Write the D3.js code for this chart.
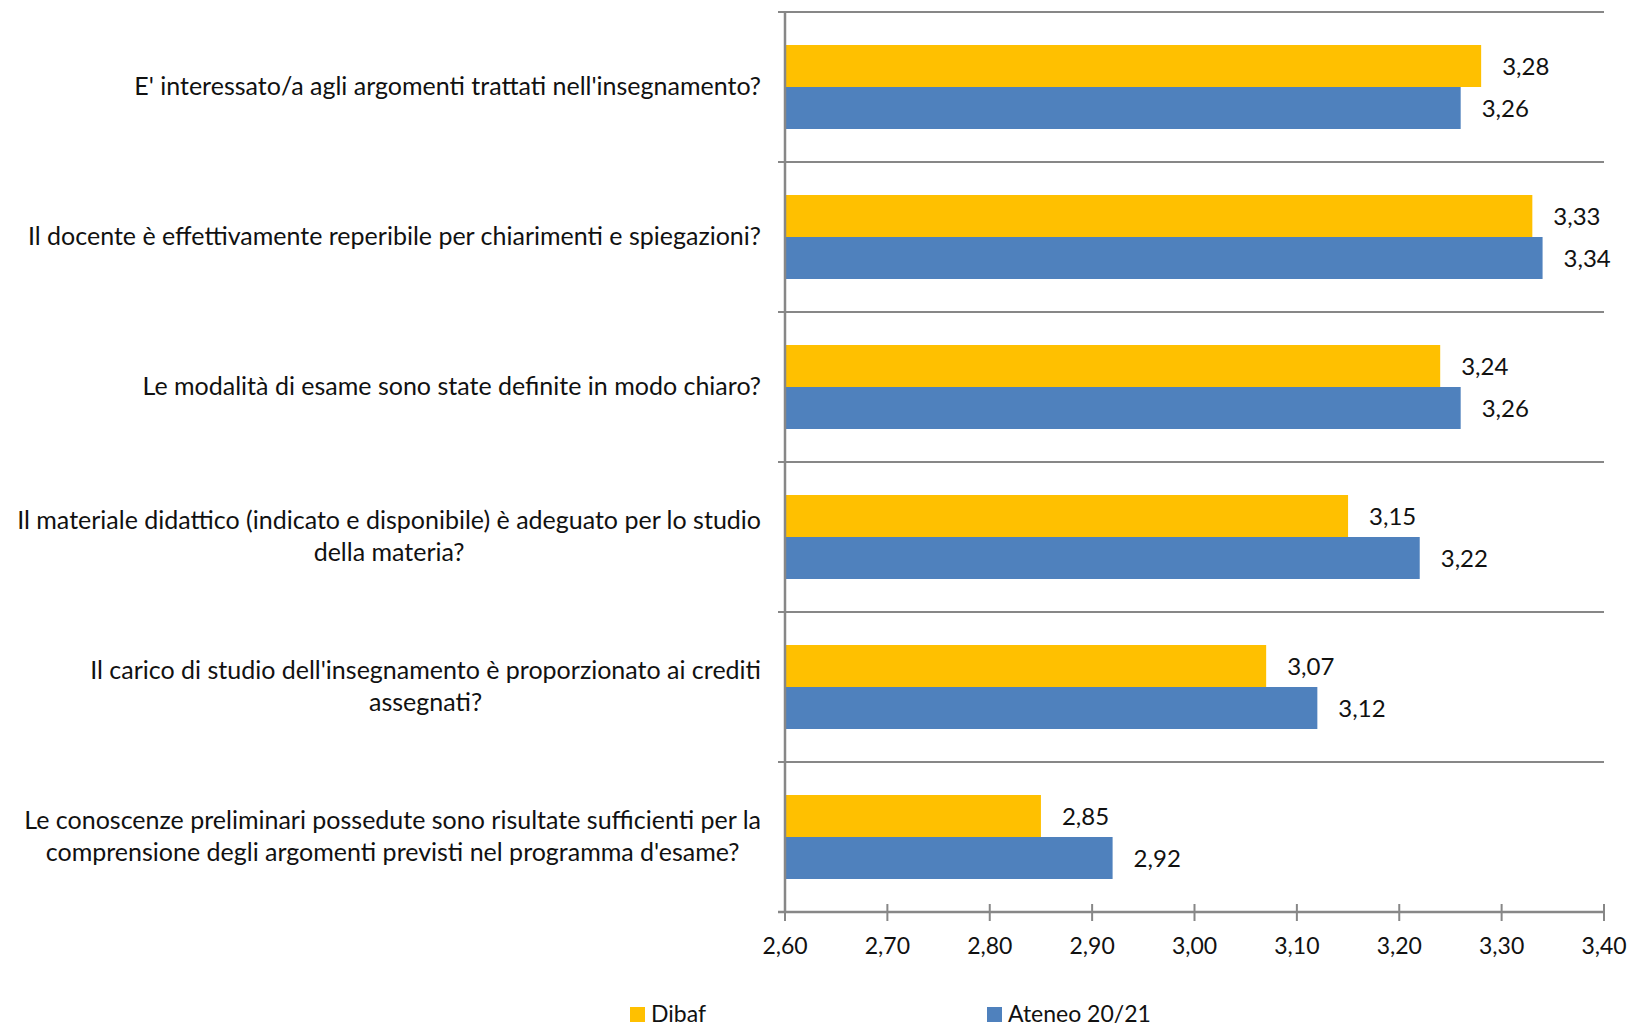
<!DOCTYPE html>
<html>
<head>
<meta charset="utf-8">
<script src="https://cdn.jsdelivr.net/npm/d3@7"></script>
<style>
  html, body { margin: 0; padding: 0; background: #fff; }
  svg { display: block; font-family: Lato, "Open Sans", sans-serif; }
</style>
</head>
<body>
<script>
// Questions, one entry per row; inner arrays are the wrapped label lines.
const categories = [
  ["E' interessato/a agli argomenti trattati nell'insegnamento?"],
  ["Il docente è effettivamente reperibile per chiarimenti e spiegazioni?"],
  ["Le modalità di esame sono state definite in modo chiaro?"],
  ["Il materiale didattico (indicato e disponibile) è adeguato per lo studio", "della materia?"],
  ["Il carico di studio dell'insegnamento è proporzionato ai crediti", "assegnati?"],
  ["Le conoscenze preliminari possedute sono risultate sufficienti per la", "comprensione degli argomenti previsti nel programma d'esame?"]
];
const seriesNames = ["Dibaf", "Ateneo 20/21"];
const dibaf  = [3.28, 3.33, 3.24, 3.15, 3.07, 2.85];
const ateneo = [3.26, 3.34, 3.26, 3.22, 3.12, 2.92];
const xTicks = [2.6, 2.7, 2.8, 2.9, 3.0, 3.1, 3.2, 3.3, 3.4];
const colors = ["#FFC000", "#4F81BD"];

const W = 1632, H = 1029;
const plot = { left: 785, right: 1604, top: 12, bottom: 912 };

const itLocale = d3.formatLocale({ decimal: ",", thousands: ".", grouping: [3], currency: ["€", ""] });
const fmt = itLocale.format(".2f");

const svg = d3.select("body").append("svg").attr("width", W).attr("height", H);

const x = d3.scaleLinear().domain([2.6, 3.4]).range([plot.left, plot.right]);
const y = d3.scaleBand().domain(d3.range(categories.length)).range([plot.top, plot.bottom]).padding(0);
const ySub = d3.scaleBand().domain(seriesNames).range([0, y.bandwidth()])
  .paddingInner(0).paddingOuter(0.786);

const gridColor = "#878787";
const textColor = "#111";

// Category separators (horizontal gridlines with a short tick left of the axis)
const bounds = d3.range(categories.length).map(i => y(i));
svg.append("g").selectAll("line").data(bounds).join("line")
  .attr("x1", plot.left - 7).attr("x2", plot.right)
  .attr("y1", d => d).attr("y2", d => d)
  .attr("stroke", gridColor).attr("stroke-width", 2);

// Bars
const rows = categories.map((c, i) => ({ i, vals: [dibaf[i], ateneo[i]] }));
const rowG = svg.append("g").selectAll("g").data(rows).join("g")
  .attr("transform", d => `translate(0,${y(d.i)})`);

rowG.selectAll("rect").data(d => d.vals.map((v, k) => ({ v, k }))).join("rect")
  .attr("x", x(2.6))
  .attr("y", d => ySub(seriesNames[d.k]))
  .attr("width", d => x(d.v) - x(2.6))
  .attr("height", ySub.bandwidth())
  .attr("fill", d => colors[d.k]);

rowG.selectAll("text.val").data(d => d.vals.map((v, k) => ({ v, k }))).join("text")
  .attr("class", "val")
  .attr("x", d => x(d.v) + 21)
  .attr("y", d => ySub(seriesNames[d.k]) + ySub.bandwidth() / 2 + 9)
  .attr("font-size", 24)
  .attr("fill", textColor)
  .text(d => fmt(d.v));

// Vertical axis line
svg.append("line")
  .attr("x1", plot.left).attr("x2", plot.left)
  .attr("y1", plot.top).attr("y2", plot.bottom)
  .attr("stroke", gridColor).attr("stroke-width", 2.5);

// Horizontal value axis with crossing tick marks
const xAxis = svg.append("g");
xAxis.append("line")
  .attr("x1", plot.left - 7).attr("x2", plot.right)
  .attr("y1", plot.bottom).attr("y2", plot.bottom)
  .attr("stroke", gridColor).attr("stroke-width", 2.5);
xAxis.selectAll("line.tick").data(xTicks).join("line")
  .attr("class", "tick")
  .attr("x1", d => x(d)).attr("x2", d => x(d))
  .attr("y1", plot.bottom - 8).attr("y2", plot.bottom + 9)
  .attr("stroke", gridColor).attr("stroke-width", 2);
xAxis.selectAll("text").data(xTicks).join("text")
  .attr("x", d => x(d))
  .attr("y", plot.bottom + 42)
  .attr("text-anchor", "middle")
  .attr("font-size", 23)
  .attr("fill", textColor)
  .text(d => fmt(d));

// Category labels: block right-aligned to the axis, lines centred within the block
const labelRight = 761, lineH = 32;
const labG = svg.append("g").attr("font-size", 25).attr("fill", textColor);
categories.forEach((lines, i) => {
  const cy = y(i) + y.bandwidth() / 2;
  const spans = lines.map(l => labG.append("text").text(l));
  const bw = d3.max(spans, s => s.node().getComputedTextLength());
  const cx = labelRight - bw / 2;
  const y0 = cy - (lines.length - 1) * lineH / 2 + 8;
  spans.forEach((s, k) => s.attr("x", cx).attr("y", y0 + k * lineH).attr("text-anchor", "middle"));
});

// Legend
const legendX = [630, 987];
const leg = svg.append("g").selectAll("g").data(seriesNames).join("g")
  .attr("transform", (d, k) => `translate(${legendX[k]},1007)`);
leg.append("rect").attr("width", 15).attr("height", 15).attr("fill", (d, k) => colors[k]);
leg.append("text").attr("x", 21).attr("y", 15).attr("font-size", 23).attr("fill", textColor).text(d => d);
</script>
</body>
</html>
